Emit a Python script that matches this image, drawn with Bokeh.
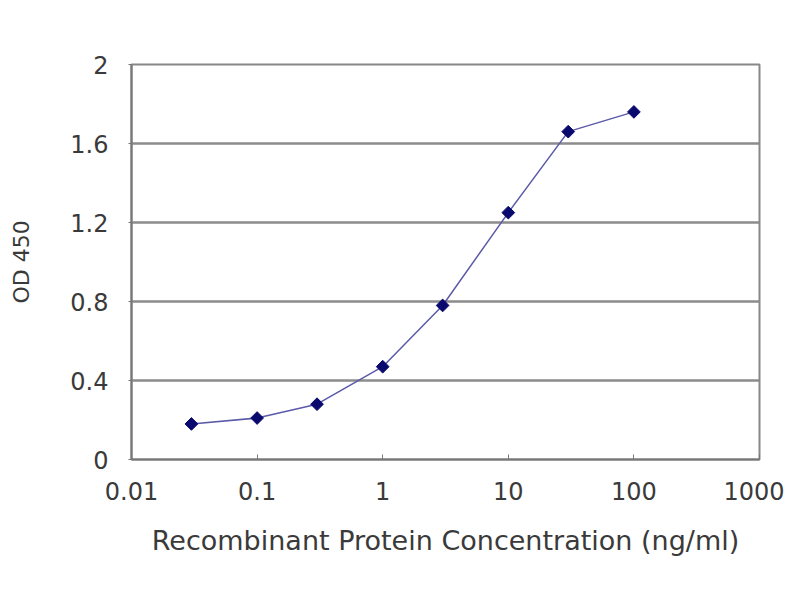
import math
from bokeh.plotting import figure
from bokeh.models import FixedTicker, Range1d
from bokeh.embed import file_html
from bokeh.resources import INLINE

# concentration (ng/ml) and OD 450 readings
conc = [0.03, 0.1, 0.3, 1, 3, 10, 30, 100]
od = [0.18, 0.21, 0.28, 0.47, 0.78, 1.25, 1.66, 1.76]

x_ticks = [0.01, 0.1, 1, 10, 100, 1000]
x_labels = ["0.01", "0.1", "1", "10", "100", "1000"]
y_ticks = [0, 0.4, 0.8, 1.2, 1.6, 2]
y_labels = ["0", "0.4", "0.8", "1.2", "1.6", "2"]

FONT = "DejaVu Sans"
TXT = "#3a3a3a"

p = figure(width=784, height=584, x_axis_type="log",
           x_range=Range1d(0.01, 1000), y_range=Range1d(0, 2),
           output_backend="svg", toolbar_location=None,
           min_border_left=131, min_border_right=25,
           min_border_top=64, min_border_bottom=125)
p.background_fill_color = "white"
p.border_fill_color = "white"
p.outline_line_color = "#888888"
p.outline_line_width = 2

# grid: horizontal lines only
p.xgrid.grid_line_color = None
p.ygrid.grid_line_color = "#8c8c8c"
p.ygrid.grid_line_width = 2.5

p.xaxis.ticker = FixedTicker(ticks=x_ticks)
p.xaxis.major_label_overrides = {t: l for t, l in zip(x_ticks, x_labels)}
p.yaxis.ticker = FixedTicker(ticks=y_ticks)
p.yaxis.major_label_overrides = {t: l for t, l in zip(y_ticks, y_labels)}

for ax in (p.xaxis[0], p.yaxis[0]):
    ax.axis_line_color = "#777777"
    ax.axis_line_width = 2
    ax.major_tick_line_color = "#777777"
    ax.major_tick_line_width = 1
    ax.minor_tick_line_color = None
    ax.major_label_text_font = FONT
    ax.major_label_text_font_size = "24px"
    ax.major_label_text_color = TXT
    ax.axis_label_text_font = FONT
    ax.axis_label_text_font_style = "normal"
    ax.axis_label_text_color = TXT

p.xaxis.major_tick_in = 5
p.xaxis.major_tick_out = 0
p.xaxis.major_label_standoff = 22
p.xaxis.axis_label = "Recombinant Protein Concentration (ng/ml)"
p.xaxis.axis_label_text_font_size = "27px"
p.xaxis.axis_label_standoff = 22

p.yaxis.major_tick_in = 0
p.yaxis.major_tick_out = 3
p.yaxis.major_label_standoff = 20
p.yaxis.axis_label = "OD 450"
p.yaxis.axis_label_text_font_size = "22px"
p.yaxis.axis_label_standoff = 33

p.line(conc, od, line_color="#5a5aa8", line_width=1.5)
p.scatter(conc, od, marker="square", size=9, angle=math.pi / 4,
          fill_color="#0a0a6e", line_color="#0a0a6e")

open("out.html", "w").write(file_html(p, INLINE))
